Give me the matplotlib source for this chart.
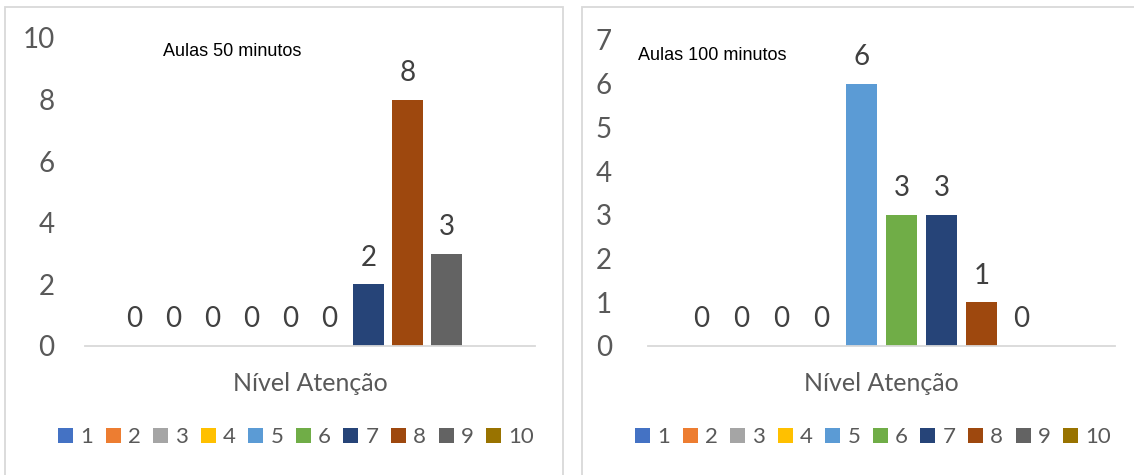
import numpy as np
import matplotlib
matplotlib.use("Agg")
import matplotlib.pyplot as plt
from matplotlib.patches import Rectangle, Patch

series_names = ["1", "2", "3", "4", "5", "6", "7", "8", "9", "10"]
colors = ["#4472C4", "#ED7D31", "#A5A5A5", "#FFC000", "#5B9BD5",
          "#70AD47", "#264478", "#9E480E", "#636363", "#997300"]
values_50 = [0, 0, 0, 0, 0, 0, 2, 8, 3, None]
values_100 = [0, 0, 0, 0, 6, 3, 3, 1, 0, None]
title_50 = "Aulas 50 minutos"
title_100 = "Aulas 100 minutos"
xlabel = "Nível Atenção"
yticks_50 = [0, 2, 4, 6, 8, 10]
yticks_100 = [0, 1, 2, 3, 4, 5, 6, 7]

W, H = 1134, 475
fig = plt.figure(figsize=(W / 100, H / 100), dpi=100)
fig.patch.set_facecolor("white")

FONT = "Lato"
TICKC = "#595959"
LABC = "#404040"
GRID = "#D9D9D9"

# panel borders (figure pixels)
for (x0, x1) in [(5, 563), (582, 1150)]:
    fig.patches.append(Rectangle((x0 / W, -0.1), (x1 - x0) / W, (H - 7) / H + 0.1,
                                 transform=fig.transFigure, fill=False,
                                 edgecolor=GRID, linewidth=1.3))


def panel(ax_rect, values, yticks, title, title_pos, spacing_px, axis_px, legend_x0, pad):
    ax = fig.add_axes(ax_rect)
    n = len(values)
    span = axis_px / spacing_px
    pos = np.arange(n) - (n - 1) / 2
    for i, v in enumerate(values):
        if v is None:
            continue
        ax.bar(pos[i], v, width=0.78, color=colors[i])
        ax.annotate(str(v), (pos[i], v), xytext=(0, 13.5), textcoords="offset points",
                    ha="center", va="baseline", fontsize=20, color=LABC, family=FONT)
    ax.set_xlim(-span / 2, span / 2)
    ax.set_ylim(0, yticks[-1])
    ax.set_yticks(yticks)
    ax.set_yticklabels([str(t) for t in yticks], fontsize=20, color=TICKC, family=FONT)
    ax.set_xticks([])
    ax.tick_params(axis="y", length=0, pad=pad)
    for s in ["top", "right", "left"]:
        ax.spines[s].set_visible(False)
    ax.spines["bottom"].set_color(GRID)
    ax.spines["bottom"].set_linewidth(1.3)
    ax.set_xlabel(xlabel, fontsize=18, color=TICKC, family=FONT, labelpad=19)
    fig.text(title_pos[0] / W, 1 - title_pos[1] / H, title, fontsize=13,
             family="Liberation Sans", color="black", va="center", ha="left")
    handles = [Patch(facecolor=c, edgecolor="none") for c in colors]
    fig.legend(handles, series_names, loc="center left",
               bbox_to_anchor=(legend_x0 / W, 1 - 437 / H), ncol=10, frameon=False,
               prop={"family": FONT, "size": 16}, labelcolor=TICKC,
               handlelength=0.68, handleheight=0.68, handletextpad=0.32,
               columnspacing=0.56, borderpad=0, borderaxespad=0)
    return ax


base = 346
panel([85 / W, (H - base) / H, 450 / W, (base - 38) / H], values_50, yticks_50,
      title_50, (163, 52), 39, 450, 58, 22)
panel([648 / W, (H - base) / H, 467 / W, (base - 40) / H], values_100, yticks_100,
      title_100, (638, 55), 40, 467, 635, 26)

fig.savefig("out.png", dpi=100, facecolor="white")
